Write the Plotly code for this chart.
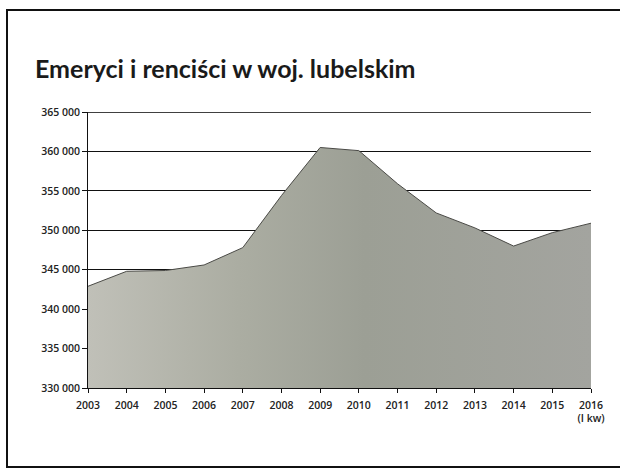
import plotly.graph_objects as go

years = [2003, 2004, 2005, 2006, 2007, 2008, 2009, 2010, 2011, 2012, 2013, 2014, 2015, 2016]
values = [342900, 344800, 344900, 345600, 347800, 354400, 360500, 360100, 355900, 352200, 350300, 348000, 349700, 350900]
x_labels = ["2003", "2004", "2005", "2006", "2007", "2008", "2009", "2010", "2011", "2012", "2013", "2014", "2015", "2016<br>(I kw)"]
y_ticks = [330000, 335000, 340000, 345000, 350000, 355000, 360000, 365000]
y_labels = ["330 000", "335 000", "340 000", "345 000", "350 000", "355 000", "360 000", "365 000"]
title = "Emeryci i renciści w woj. lubelskim"

W, H = 620, 468
L, R, T, B = 88, 29, 112, 80
pw, ph = W - L - R, H - T - B

def px(x):
    return (x - L) / pw

def py(y):
    return (H - B - y) / ph

fig = go.Figure()
fig.add_trace(go.Scatter(
    x=years, y=values, mode="lines",
    line=dict(color="#4a4a46", width=1),
    fill="tozeroy",
    fillgradient=dict(type="horizontal",
                      colorscale=[[0, "#c0c0b8"], [0.3, "#abada2"], [0.55, "#9c9f95"], [1, "#a3a49f"]]),
    hoverinfo="skip", showlegend=False,
))

tickfont = dict(size=10.5, family="Open Sans", color="#222", weight=600)

fig.update_layout(
    width=W, height=H,
    margin=dict(l=L, r=R, t=T, b=B, pad=0),
    paper_bgcolor="white", plot_bgcolor="white",
    font=dict(family="Open Sans, sans-serif", color="#222"),
    xaxis=dict(range=[2003, 2016], tickvals=years, ticktext=x_labels,
               showgrid=False, zeroline=False,
               showline=True, linecolor="#111", linewidth=1,
               ticks="outside", ticklen=4, tickcolor="#111",
               tickfont=tickfont, tickangle=0, ticklabelstandoff=3),
    yaxis=dict(range=[330000, 365000], tickvals=y_ticks, ticktext=y_labels,
               showgrid=True, gridcolor="#111", gridwidth=1,
               zeroline=False,
               showline=True, linecolor="#111", linewidth=1,
               ticks="outside", ticklen=5, tickcolor="#111",
               tickfont=tickfont),
    annotations=[dict(
        text=f"<b>{title}</b>", x=px(33), y=py(68), xref="paper", yref="paper",
        xanchor="left", yanchor="middle", showarrow=False,
        font=dict(family="Lato", size=25, color="#1a1a1a"))],
    shapes=[
        dict(type="line", xref="paper", yref="y", x0=0, x1=1, y0=365000, y1=365000,
             line=dict(color="#000", width=1.3), layer="below"),
        dict(type="rect", xref="paper", yref="paper",
             x0=px(7), x1=px(640), y0=py(10), y1=py(467),
             line=dict(color="#111", width=2), fillcolor="rgba(0,0,0,0)", layer="above"),
    ],
)

fig.write_html("out.html", config={"displayModeBar": False},
               post_script="document.body.style.margin='0';document.body.style.padding='0';")
